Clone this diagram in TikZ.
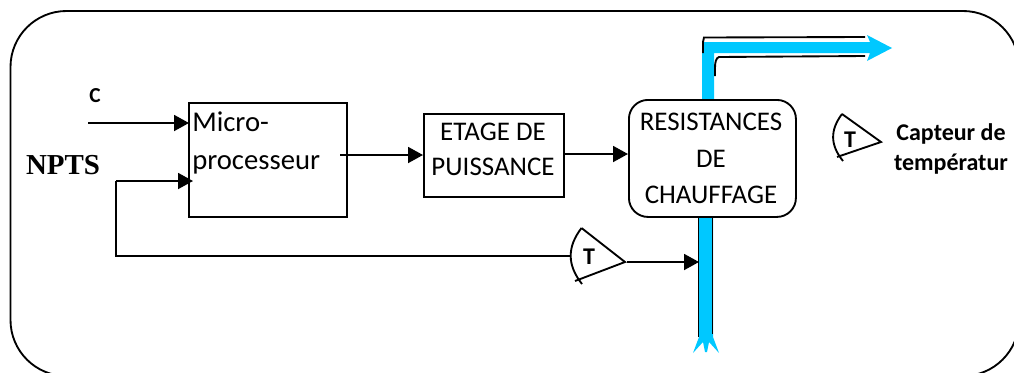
\documentclass[tikz,border=0pt]{standalone}
\usepackage{fontspec}
\usetikzlibrary{arrows.meta}
\setmainfont{Carlito}
\newfontfamily\serifb{Liberation Serif}[BoldFont={Liberation Serif Bold}]
\definecolor{pipe}{HTML}{00C8FF}
\tikzset{
  line/.style={draw=black,line width=1.4pt},
  flow/.style={line,-{Triangle[length=11.25pt,width=12pt]}},
  blockbox/.style={draw=black,line width=1.4pt,inner sep=0pt,anchor=north west},
  blocktext/.style={font=\fontsize{20.2}{24}\selectfont,inner sep=0pt},
  sensorlabel/.style={font=\fontsize{18}{22}\selectfont\bfseries,inner sep=0pt},
  tlabel/.style={font=\fontsize{18}{22}\selectfont\bfseries,inner sep=0pt},
}
\begin{document}
\begin{tikzpicture}[x=0.75pt,y=-0.75pt]
\useasboundingbox (0,0) rectangle (1014,372);
\begin{scope}
\clip (0,0) rectangle (1014,372);
\draw[line,rounded corners=56pt*0.75] (10.5,11) rectangle (1019,376);
\end{scope}
% pipes
\fill[pipe] (702,100) -- (702,42) -- (870,42) -- (867,35) -- (892,48) -- (867,61) -- (870,53) -- (714,53) -- (714,100) -- cycle;
\draw[line] (865,37) -- (704,37.5) -- (703,42) -- (703,53);
\draw[line] (865,56) -- (719,57) .. controls (716,58) and (715,62) .. (715,68) -- (715,76);
\fill[pipe] (699,216) -- (713,216) -- (713,337) -- (719,353) -- (709,342) -- (707,352) -- (705,352) -- (703,342) -- (693,353) -- (699,337) -- cycle;
\draw[line] (698.5,216) -- (698.5,337);
\draw[line] (712.5,216) -- (712.5,334);
% blocks
\node[blockbox,minimum width=158*0.75pt,minimum height=114*0.75pt] (micro) at (188,102) {};
\node[blocktext,font=\fontsize{21.5}{26}\selectfont,anchor=base west] (mt1) at (192,131) {Micro-};
\node[blocktext,font=\fontsize{21.5}{26}\selectfont,anchor=base west] (mt2) at (192,169) {processeur};
\node[blockbox,minimum width=140*0.75pt,minimum height=83*0.75pt] (etage) at (423,113) {};
\node[blocktext] (et1) at (493,132) {ETAGE DE};
\node[blocktext] (et2) at (493,167) {PUISSANCE};
\node[blockbox,rounded corners=19pt*0.75,fill=white,minimum width=167*0.75pt,minimum height=117*0.75pt] (res) at (628,99) {};
\node[blocktext] (r1) at (711,122) {RESISTANCES};
\node[blocktext] (r2) at (711,159) {DE};
\node[blocktext] (r3) at (711,195) {CHAUFFAGE};
% sensors
\draw[line] (581.5,228) -- (625,262) -- (575,281);
\draw[line] (581.5,228) .. controls (567,247) and (567,265) .. (582,284);
\node[tlabel] (t1) at (589,257) {T};
\draw[line] (842,114) -- (881,142) -- (837,157);
\draw[line] (842,114) .. controls (830,130) and (830,145) .. (843,161);
\node[tlabel] (t2) at (850,140) {T};
% free ends
\coordinate (cin) at (88,123);
\coordinate (cend) at (189,123);
\coordinate (nin) at (116,181);
\coordinate (nend) at (193,181);
\coordinate (fbk) at (116,256);
\coordinate (s1w) at (570,256);
\coordinate (s1e) at (627,262);
\coordinate (pipein) at (699,262);
\coordinate (mo) at (340,155);
\coordinate (ei) at (423,155);
\coordinate (eo) at (563,154);
\coordinate (ri) at (628,154);
\draw[flow] (cin) -- (cend);
\draw[flow] (nin) -- (nend);
\draw[line] (nin) -- (fbk) -- (s1w);
\draw[flow] (s1e) -- (pipein);
\draw[flow] (mo) -- (ei);
\draw[flow] (eo) -- (ri);
% labels
\node[font=\fontsize{16}{18}\selectfont\bfseries,inner sep=0pt] (c) at (95,96) {C};
\node[font=\serifb\fontsize{21.7}{26}\selectfont\bfseries,inner sep=0pt] (npts) at (63,165) {NPTS};
\node[sensorlabel] (cap1) at (951,134) {Capteur de};
\node[sensorlabel] (cap2) at (951,164) {températur};
\end{tikzpicture}
\end{document}
